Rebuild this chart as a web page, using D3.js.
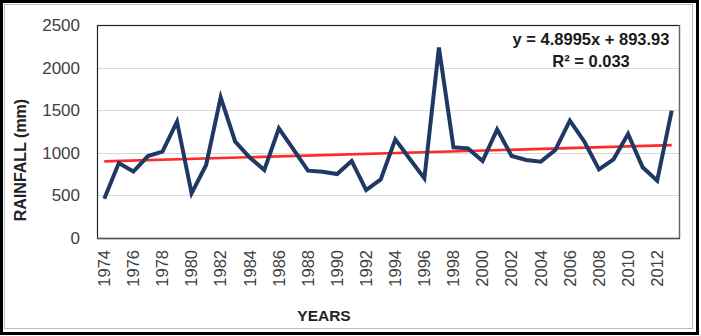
<!DOCTYPE html>
<html>
<head>
<meta charset="utf-8">
<script src="https://cdn.jsdelivr.net/npm/d3@7"></script>
<style>
  html, body { margin: 0; padding: 0; background: #fff; }
  svg { display: block; font-family: "Liberation Sans", Arial, sans-serif; }
</style>
</head>
<body>
<svg id="chart" width="701" height="336"></svg>
<script>
const years = d3.range(1974, 2014);
const rainfall = [
  460, 880, 780, 962, 1013, 1365, 524, 857, 1651, 1130,
  945, 798, 1287, 1041, 790, 778, 751, 904, 563, 688,
  1158, 928, 700, 2235, 1064, 1052, 904, 1275, 962, 915,
  896, 1033, 1377, 1130, 806, 923, 1220, 830, 673, 1494
];
const yTicks = [0, 500, 1000, 1500, 2000, 2500];
const xTickLabels = d3.range(1974, 2014, 2);
const trendSlope = 4.8995;
const trendIntercept = 893.93;
const equationText = "y = 4.8995x + 893.93";
const r2Text = "R² = 0.033";
const yTitle = "RAINFALL (mm)";
const xTitle = "YEARS";

const svg = d3.select("#chart");
const plot = { left: 97, top: 25, right: 679, bottom: 238 };

// outer frame
svg.append("rect").attr("x", 4.5).attr("y", 4.5).attr("width", 688).attr("height", 324)
  .attr("fill", "none").attr("stroke", "#bbb").attr("stroke-width", 1);
svg.append("rect").attr("x", 1.5).attr("y", 1.5).attr("width", 696).attr("height", 332)
  .attr("fill", "none").attr("stroke", "#000").attr("stroke-width", 3);

const x = d3.scaleBand().domain(years).range([plot.left, plot.right]);
const y = d3.scaleLinear().domain([0, 2500]).range([plot.bottom, plot.top]);
const cx = d => x(d) + x.bandwidth() / 2;

// gridlines
svg.append("g").selectAll("line").data(yTicks.slice(1)).join("line")
  .attr("x1", plot.left).attr("x2", plot.right)
  .attr("y1", d => Math.round(y(d)) + 0.5).attr("y2", d => Math.round(y(d)) + 0.5)
  .attr("stroke", "#d9d9d9").attr("stroke-width", 1.2);

// plot border
svg.append("rect").attr("x", plot.left + 0.5).attr("y", plot.top + 0.5)
  .attr("width", plot.right - plot.left).attr("height", plot.bottom - plot.top)
  .attr("fill", "none").attr("stroke", "#222").attr("stroke-width", 1.2);
svg.append("line").attr("x1", plot.right + 0.5).attr("x2", plot.right + 0.5)
  .attr("y1", plot.top).attr("y2", plot.bottom)
  .attr("stroke", "#666").attr("stroke-width", 1.2);
svg.append("line").attr("x1", plot.left).attr("x2", plot.right)
  .attr("y1", plot.bottom + 0.5).attr("y2", plot.bottom + 0.5)
  .attr("stroke", "#555").attr("stroke-width", 1.4);

// y axis
const yAxis = d3.axisLeft(y).tickValues(yTicks).tickFormat(d3.format("d")).tickSize(0).tickPadding(0);
const gy = svg.append("g").attr("transform", `translate(80,0)`).call(yAxis);
gy.select(".domain").remove();
gy.selectAll("text").attr("font-size", 17).attr("fill", "#404040")
  .attr("font-family", "'Liberation Sans', Arial, sans-serif");

// x axis
const xAxis = d3.axisBottom(x).tickValues(xTickLabels).tickFormat(d3.format("d")).tickSize(0).tickPadding(0);
const gx = svg.append("g").attr("transform", `translate(0,${plot.bottom})`).call(xAxis);
gx.select(".domain").remove();
gx.selectAll("text")
  .attr("font-size", 16.5).attr("fill", "#404040")
  .attr("font-family", "'Liberation Sans', Arial, sans-serif")
  .attr("transform", "rotate(-90)")
  .attr("text-anchor", "end")
  .attr("x", -12).attr("y", 0).attr("dy", "0.35em");

// axis titles
svg.append("text").text(yTitle)
  .attr("transform", "translate(26,160) rotate(-90)")
  .attr("text-anchor", "middle").attr("font-weight", "bold")
  .attr("font-size", 16).attr("fill", "#222");
svg.append("text").text(xTitle)
  .attr("x", 324).attr("y", 321)
  .attr("text-anchor", "middle").attr("font-weight", "bold")
  .attr("font-size", 15.5).attr("fill", "#222");

// trendline
const trend = years.map((yr, i) => ({ yr, v: trendSlope * (i + 1) + trendIntercept }));
svg.append("path").datum([trend[0], trend[trend.length - 1]])
  .attr("d", d3.line().x(d => cx(d.yr)).y(d => y(d.v)))
  .attr("fill", "none").attr("stroke", "#ff2b2b").attr("stroke-width", 2.6);

// series line
svg.append("path").datum(years.map((yr, i) => ({ yr, v: rainfall[i] })))
  .attr("d", d3.line().x(d => cx(d.yr)).y(d => y(d.v)))
  .attr("fill", "none").attr("stroke", "#1f3864").attr("stroke-width", 4)
  .attr("stroke-linejoin", "miter").attr("stroke-miterlimit", 4);

// trendline equation
svg.append("text").text(equationText)
  .attr("x", 591).attr("y", 45).attr("text-anchor", "middle")
  .attr("font-weight", "bold").attr("font-size", 16.5).attr("fill", "#1a1a1a");
svg.append("text")
  .attr("x", 591).attr("y", 67).attr("text-anchor", "middle")
  .attr("font-weight", "bold").attr("font-size", 16.5).attr("fill", "#1a1a1a")
  .text(r2Text);
</script>
</body>
</html>
